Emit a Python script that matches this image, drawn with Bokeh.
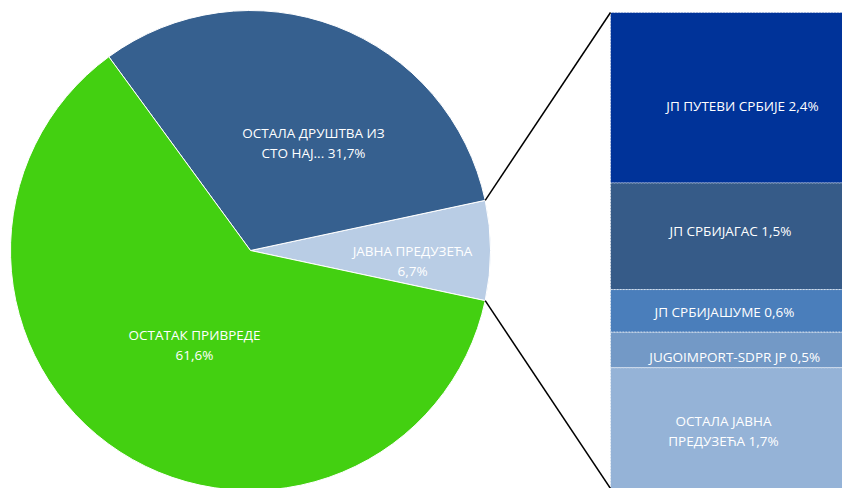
import math
from bokeh.plotting import figure
from bokeh.models import Range1d
from bokeh.core.properties import value
from bokeh.embed import file_html
from bokeh.resources import INLINE

# ---- data ----
pie_labels = ["ЈАВНА ПРЕДУЗЕЋА", "ОСТАЛА ДРУШТВА ИЗ СТО НАЈ...", "ОСТАТАК ПРИВРЕДЕ"]
pie_values = [6.7, 31.7, 61.6]
pie_colors = ["#B9CDE5", "#36608F", "#43D011"]

bar_labels = ["ЈП ПУТЕВИ СРБИЈЕ", "ЈП СРБИЈАГАС", "ЈП СРБИЈАШУМЕ", "JUGOIMPORT-SDPR JP ", "ОСТАЛА ЈАВНА ПРЕДУЗЕЋА"]
bar_values = [2.4, 1.5, 0.6, 0.5, 1.7]
bar_colors = ["#003399", "#365B88", "#4A7EBB", "#7399C6", "#95B3D7"]

def fmt(v):
    return ("%.1f" % v).replace(".", ",") + "%"

# ---- layout ----
W, H = 842, 488
FONT = "Open Sans"
FS = "13.5px"
p = figure(width=W, height=H, output_backend="svg", toolbar_location=None,
           x_range=Range1d(0, W), y_range=Range1d(0, H), min_border=0)
p.axis.visible = False
p.grid.visible = False
p.outline_line_color = None
p.background_fill_color = "white"

cx, cy, r = 250, 238, 240
total = sum(pie_values)
start = -pie_values[0] / total * math.pi
starts, ends = [], []
a = start
for v in pie_values:
    starts.append(a)
    a += v / total * 2 * math.pi
    ends.append(a)
p.wedge(x=[cx] * 3, y=[cy] * 3, radius=r, start_angle=starts, end_angle=ends,
        fill_color=pie_colors, line_color="white", line_width=1)

# bar on a second y-range
bar_total = sum(bar_values)
bar_top_px = 476
bar_range_end = bar_total * H / bar_top_px
p.extra_y_ranges = {"bar": Range1d(0, bar_range_end)}
bx0, bx1 = 610, 870
tops, bottoms = [], []
acc = bar_total
for v in bar_values:
    tops.append(acc)
    bottoms.append(acc - v)
    acc -= v
p.quad(left=[bx0] * 5, right=[bx1] * 5, top=tops, bottom=bottoms,
       fill_color=bar_colors, line_color="white", line_alpha=0.6,
       line_width=1, line_dash="2 1", y_range_name="bar")

# connector lines
scale = H / bar_range_end
ya = cy + r * math.sin(starts[0])
yb = cy + r * math.sin(ends[0])
xa = cx + r * math.cos(starts[0])
xb = cx + r * math.cos(ends[0])
p.segment(x0=[xb, xa], y0=[yb, ya], x1=[bx0, bx0],
          y1=[tops[0] * scale, bottoms[-1] * scale],
          line_color="black", line_width=1.5)

# pie labels (layout positions)
pie_text = [[pie_labels[0], fmt(pie_values[0])],
            ["ОСТАЛА ДРУШТВА ИЗ", "СТО НАЈ... " + fmt(pie_values[1])],
            [pie_labels[2], fmt(pie_values[2])]]
pie_pos = [(412, 228), (313, 346), (194, 144)]
for lines, (tx, ty) in zip(pie_text, pie_pos):
    n = len(lines)
    ys = [ty + 10 * (n - 1) - 20 * i for i in range(n)]
    p.text(x=[tx] * n, y=ys, text=lines, text_color="white",
           text_font=value(FONT), text_font_size=FS,
           text_align="center", text_baseline="middle")

# bar labels
bar_text = [[bar_labels[0] + " " + fmt(bar_values[0])],
            [bar_labels[1] + " " + fmt(bar_values[1])],
            [bar_labels[2] + " " + fmt(bar_values[2])],
            [bar_labels[3] + " " + fmt(bar_values[3])],
            ["ОСТАЛА ЈАВНА", "ПРЕДУЗЕЋА " + fmt(bar_values[4])]]
bar_pos = [(742, 383), (730, 258), (724, 177), (736, 132), (723, 58)]
for lines, (tx, ty) in zip(bar_text, bar_pos):
    n = len(lines)
    ys = [ty + 10 * (n - 1) - 20 * i for i in range(n)]
    p.text(x=[tx] * n, y=ys, text=lines, text_color="white",
           text_font=value(FONT), text_font_size=FS,
           text_align="center", text_baseline="middle")

open("out.html", "w").write(file_html(p, INLINE))
